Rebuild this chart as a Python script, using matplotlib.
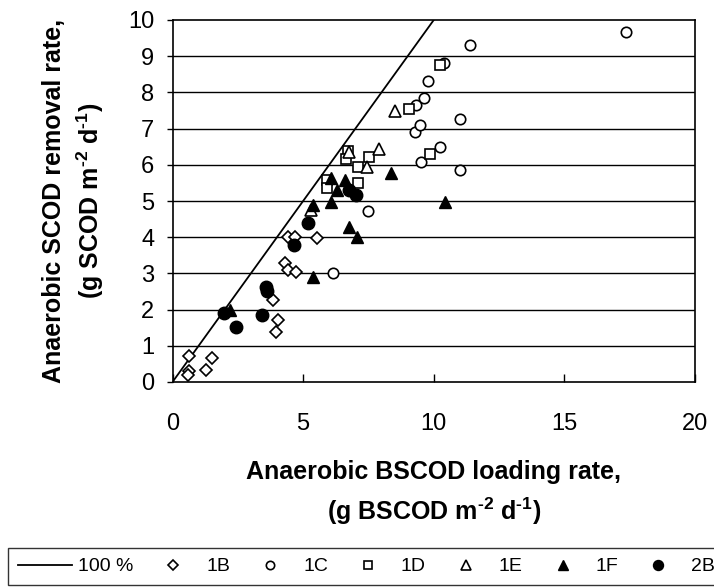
import matplotlib
matplotlib.use("Agg")
import matplotlib.pyplot as plt

plt.rcParams['font.family'] = ['Liberation Sans', 'DejaVu Sans']
plt.rcParams['mathtext.fontset'] = 'custom'
plt.rcParams['mathtext.rm'] = 'Liberation Sans:bold'
plt.rcParams['mathtext.default'] = 'rm'

# 1:1 reference line
line_x = [0, 10]
line_y = [0, 10]

b1_x = [0.64, 0.62, 0.60, 1.30, 1.50, 3.86, 4.05, 3.97, 4.31, 4.44, 4.73, 4.44, 4.69, 5.52]
b1_y = [0.72, 0.30, 0.19, 0.33, 0.67, 2.27, 1.71, 1.39, 3.28, 3.09, 3.05, 4.01, 4.00, 3.97]

c1_x = [6.16, 7.48, 9.29, 9.50, 9.46, 9.33, 9.61, 9.78, 10.41, 11.37, 10.99, 10.25, 10.99, 17.36]
c1_y = [3.00, 4.72, 6.91, 6.09, 7.10, 7.65, 7.85, 8.31, 8.82, 9.31, 7.27, 6.50, 5.87, 9.68]

d1_x = [6.70, 6.64, 7.54, 7.10, 7.10, 5.93, 5.93, 9.07, 10.25, 9.84]
d1_y = [6.39, 6.15, 6.22, 5.93, 5.50, 5.58, 5.35, 7.53, 8.76, 6.31]

e1_x = [6.74, 7.91, 7.44, 5.30, 8.50]
e1_y = [6.36, 6.45, 5.93, 4.75, 7.50]

f1_x = [2.20, 5.37, 5.37, 6.06, 6.61, 6.29, 6.06, 6.74, 7.06, 8.36, 10.44]
f1_y = [1.99, 2.91, 4.89, 5.63, 5.58, 5.30, 4.98, 4.29, 4.01, 5.78, 4.98]

b2_x = [1.97, 2.43, 3.42, 3.58, 3.63, 4.66, 5.20, 6.76, 7.02]
b2_y = [1.91, 1.52, 1.85, 2.63, 2.52, 3.78, 4.38, 5.30, 5.17]

fig = plt.figure(figsize=(7.14, 5.88), dpi=100)
ax = fig.add_axes([172.5 / 714, 1 - 382 / 588, (695 - 172.5) / 714, (382 - 20) / 588])

for y in range(1, 10):
    ax.axhline(y, color='black', lw=1.0, zorder=1)

ax.plot(line_x, line_y, color='black', lw=1.3, label='100 %', zorder=2)
ax.plot(b1_x, b1_y, 'D', ms=6, mfc='white', mec='black', mew=1.2, ls='none', label='1B', zorder=3)
ax.plot(c1_x, c1_y, 'o', ms=7.5, mfc='white', mec='black', mew=1.2, ls='none', label='1C', zorder=3)
ax.plot(d1_x, d1_y, 's', ms=7.5, mfc='white', mec='black', mew=1.2, ls='none', label='1D', zorder=3)
ax.plot(e1_x, e1_y, '^', ms=9, mfc='white', mec='black', mew=1.2, ls='none', label='1E', zorder=3)
ax.plot(f1_x, f1_y, '^', ms=9, mfc='black', mec='black', ls='none', label='1F', zorder=4)
ax.plot(b2_x, b2_y, 'o', ms=9, mfc='black', mec='black', ls='none', label='2B', zorder=4)

ax.set_xlim(0, 20)
ax.set_ylim(0, 10)
ax.set_xticks([0, 5, 10, 15, 20])
ax.set_yticks(range(0, 11))
ax.tick_params(axis='x', direction='in', length=6, width=1, pad=22, labelsize=17)
ax.tick_params(axis='y', direction='out', length=4, width=1, pad=9, labelsize=17)
for s in ax.spines.values():
    s.set_linewidth(1.2)

ax.set_xlabel('Anaerobic BSCOD loading rate,\n(g BSCOD m$^{\\text{-2}}$ d$^{\\text{-1}}$)',
              fontsize=18, fontweight='bold', labelpad=18, linespacing=1.5)
ax.set_ylabel('Anaerobic SCOD removal rate,\n(g SCOD m$^{\\text{-2}}$ d$^{\\text{-1}}$)',
              fontsize=18, fontweight='bold', labelpad=16, linespacing=1.35)

fig.legend(loc='upper left', bbox_to_anchor=(8 / 714, 1 - 548 / 588), ncol=7,
           fontsize=14, frameon=True, fancybox=False, edgecolor='black',
           handlelength=2.8, handletextpad=0.3, columnspacing=0.65,
           borderaxespad=0, borderpad=0.5, markerscale=0.8)
leg = fig.legends[0]
leg.get_frame().set_linewidth(1.0)

fig.savefig('out.png', dpi=100)
